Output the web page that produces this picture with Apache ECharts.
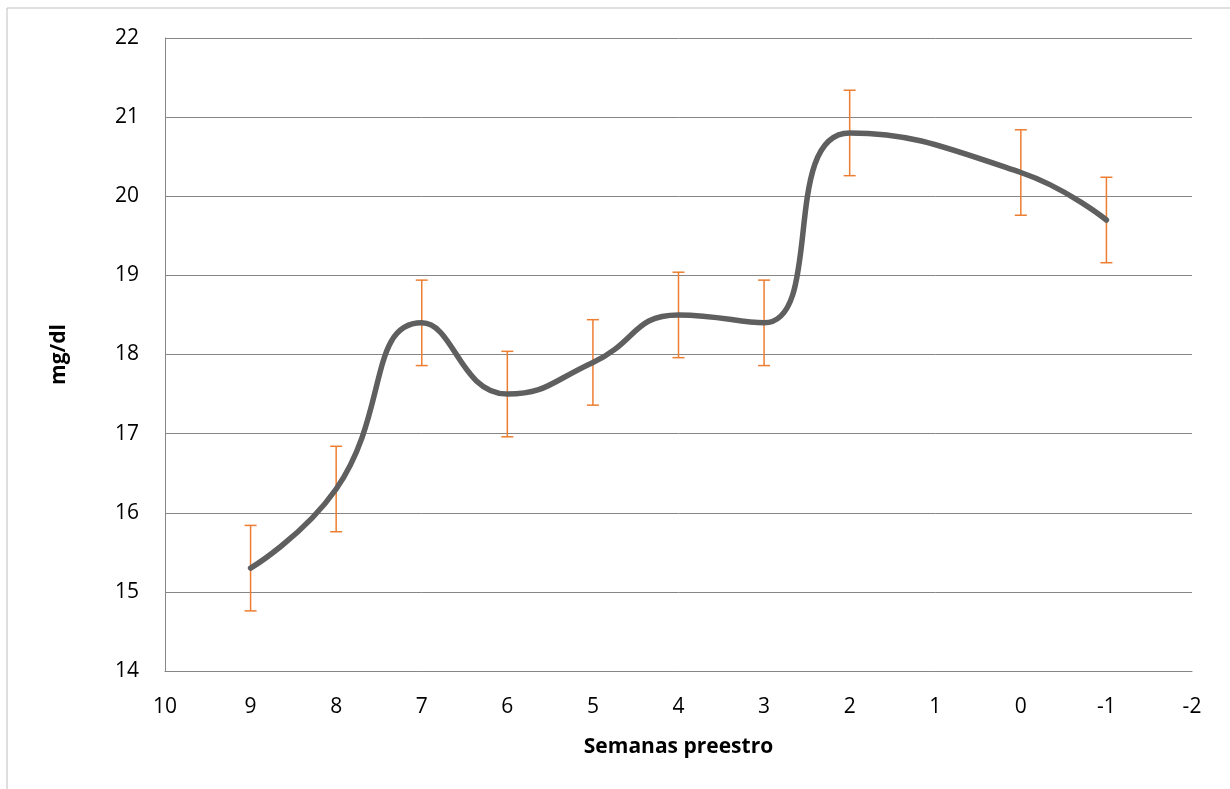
<!DOCTYPE html>
<html>
<head>
<meta charset="utf-8">
<script src="https://cdn.jsdelivr.net/npm/echarts@6/dist/echarts.min.js"></script>
<style>
  html, body { margin: 0; padding: 0; background: #fff; }
  #chart { width: 1230px; height: 789px; }
</style>
</head>
<body>
<div id="chart"></div>
<script>
  // semanas preestro (x) y valores medios (mg/dl)
  const weeks = [9, 8, 7, 6, 5, 4, 3, 2, 0, -1];
  const means = [15.3, 16.3, 18.4, 17.5, 17.9, 18.5, 18.4, 20.8, 20.3, 19.7];
  const errors = [0.54, 0.54, 0.54, 0.54, 0.54, 0.54, 0.54, 0.54, 0.54, 0.54];

  const lineData = weeks.map((w, i) => [w, means[i]]);
  const errData = weeks.map((w, i) => [w, means[i] - errors[i], means[i] + errors[i]]);

  const font = 'Open Sans, Lato, sans-serif';

  let myChart = echarts.init(document.getElementById('chart'));
  myChart.setOption({
    animation: false,
    graphic: [{
      type: 'rect',
      shape: { x: 7, y: 8, width: 1240, height: 800 },
      style: { fill: 'none', stroke: '#bfbfbf', lineWidth: 1 },
      silent: true
    }],
    grid: { left: 165, right: 38, top: 38, bottom: 118 },
    xAxis: {
      type: 'value',
      min: -2,
      max: 10,
      interval: 1,
      inverse: true,
      name: 'Semanas preestro',
      nameLocation: 'middle',
      nameGap: 66,
      nameTextStyle: { fontFamily: font, fontSize: 21, fontWeight: 'bold', color: '#000' },
      axisLine: { onZero: false, lineStyle: { color: '#868686', width: 1 } },
      axisTick: { show: false },
      axisLabel: { fontFamily: font, fontSize: 21, color: '#000', margin: 26 },
      splitLine: { show: false }
    },
    yAxis: {
      type: 'value',
      min: 14,
      max: 22,
      interval: 1,
      name: 'mg/dl',
      nameLocation: 'middle',
      nameGap: 95,
      nameRotate: 90,
      nameTextStyle: { fontFamily: font, fontSize: 21, fontWeight: 'bold', color: '#000' },
      axisLine: { show: true, onZero: false, lineStyle: { color: '#868686', width: 1 } },
      axisTick: { show: false },
      axisLabel: { fontFamily: font, fontSize: 21, color: '#000', margin: 26 },
      splitLine: { lineStyle: { color: '#868686', width: 1 } }
    },
    series: [
      {
        type: 'line',
        data: lineData,
        smooth: 0.5,
        showSymbol: false,
        lineStyle: { color: '#5f5f5f', width: 5.5, cap: 'round' },
        z: 3
      },
      {
        type: 'custom',
        data: errData,
        z: 2,
        renderItem: function (params, api) {
          const x = api.value(0);
          const lo = api.coord([x, api.value(1)]);
          const hi = api.coord([x, api.value(2)]);
          const hw = 6;
          const style = { stroke: '#ed7d31', lineWidth: 1.5 };
          return {
            type: 'group',
            children: [
              { type: 'line', shape: { x1: lo[0], y1: lo[1], x2: hi[0], y2: hi[1] }, style: style },
              { type: 'line', shape: { x1: lo[0] - hw, y1: lo[1], x2: lo[0] + hw, y2: lo[1] }, style: style },
              { type: 'line', shape: { x1: hi[0] - hw, y1: hi[1], x2: hi[0] + hw, y2: hi[1] }, style: style }
            ]
          };
        }
      }
    ]
  });
</script>
</body>
</html>
